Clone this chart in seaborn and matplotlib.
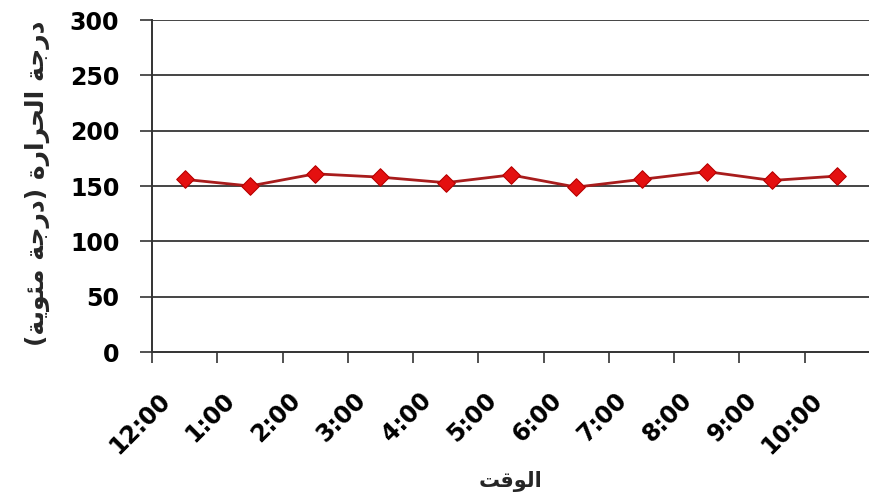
import numpy as np
import pandas as pd
import matplotlib
matplotlib.use("Agg")
import matplotlib.pyplot as plt
from matplotlib.ticker import FixedLocator
from matplotlib.transforms import ScaledTranslation
import seaborn as sns

# chart data
times = ["12:00", "1:00", "2:00", "3:00", "4:00", "5:00",
         "6:00", "7:00", "8:00", "9:00", "10:00"]
temps = [156, 150, 161, 158, 153, 160, 149, 156, 163, 155, 159]
y_ticks = [0, 50, 100, 150, 200, 250, 300]

x_title = "الوقت"
y_title = "درجة الحرارة (درجة مئوية)"

# very small Arabic shaper (matplotlib has no RTL / joining support)
FORMS = {
    "ا": ("\uFE8D", "\uFE8E", None, None),
    "د": ("\uFEA9", "\uFEAA", None, None),
    "ر": ("\uFEAD", "\uFEAE", None, None),
    "و": ("\uFEED", "\uFEEE", None, None),
    "ة": ("\uFE93", "\uFE94", None, None),
    "ج": ("\uFE9D", "\uFE9E", "\uFE9F", "\uFEA0"),
    "ح": ("\uFEA1", "\uFEA2", "\uFEA3", "\uFEA4"),
    "ل": ("\uFEDD", "\uFEDE", "\uFEDF", "\uFEE0"),
    "م": ("\uFEE1", "\uFEE2", "\uFEE3", "\uFEE4"),
    "ئ": ("\uFE89", "\uFE8A", "\uFE8B", "\uFE8C"),
    "ي": ("\uFEF1", "\uFEF2", "\uFEF3", "\uFEF4"),
    "ق": ("\uFED5", "\uFED6", "\uFED7", "\uFED8"),
    "ت": ("\uFE95", "\uFE96", "\uFE97", "\uFE98"),
}


def shape(text):
    out = []
    for i, ch in enumerate(text):
        if ch not in FORMS:
            out.append(ch)
            continue
        prev = text[i - 1] if i > 0 else ""
        nxt = text[i + 1] if i + 1 < len(text) else ""
        join_prev = prev in FORMS and FORMS[prev][2] is not None
        join_next = nxt in FORMS and FORMS[ch][2] is not None
        iso, fin, ini, med = FORMS[ch]
        if join_prev and join_next:
            out.append(med)
        elif join_prev:
            out.append(fin)
        elif join_next:
            out.append(ini)
        else:
            out.append(iso)
    vis = "".join(out)[::-1]
    return vis.translate(str.maketrans("()", ")("))


df = pd.DataFrame({"time": times, "temp": temps})

sns.set_style("white")
plt.rcParams["font.family"] = ["DejaVu Sans"]
plt.rcParams["text.color"] = "black"
plt.rcParams["xtick.color"] = "black"
plt.rcParams["ytick.color"] = "black"

fig = plt.figure(figsize=(8.7, 5.04), dpi=100)
ax = fig.add_axes([152 / 870, 1 - 352 / 504, 718 / 870, 332 / 504])

sns.lineplot(data=df, x="time", y="temp", color="#A81C1C", linewidth=2, ax=ax, sort=False)
sns.scatterplot(data=df, x="time", y="temp", marker="D", s=80, color="#E41010",
                edgecolor="#B80000", linewidth=0.8, ax=ax, zorder=5)

ax.set_xlim(-0.5, len(times) - 0.5)
ax.set_ylim(0, 300)
ax.set_yticks(y_ticks)
ax.set_yticklabels([str(v) for v in y_ticks], fontsize=17, fontweight="bold")
ax.set_xticks(range(len(times)))
ax.set_xticklabels(times, rotation=45, ha="right", va="top", rotation_mode="anchor",
                   fontsize=17, fontweight="bold")
ax.xaxis.set_minor_locator(FixedLocator(np.arange(-0.5, len(times), 1)))
ax.tick_params(axis="x", which="major", length=0, pad=26)
ax.tick_params(axis="x", which="minor", length=8, width=1.2, color="#333333", direction="out", bottom=True)
ax.tick_params(axis="y", length=8.5, width=1.2, color="#333333", direction="out", left=True, pad=15)

# nudge rotated time labels left (after tick_params, which resets transforms)
shift = ScaledTranslation(-27 / 100, 0, fig.dpi_scale_trans)
for lbl in ax.get_xticklabels():
    lbl.set_transform(lbl.get_transform() + shift)

for v in y_ticks[1:]:
    ax.axhline(v, color="#444444", linewidth=1.4, zorder=1)

for s in ["top", "right"]:
    ax.spines[s].set_visible(False)
for s in ["left", "bottom"]:
    ax.spines[s].set_color("#333333")
    ax.spines[s].set_linewidth(1.4)

ax.set_xlabel(shape(x_title), fontsize=15, fontweight="bold")
ax.xaxis.set_label_coords(0.5, -0.357)
ax.set_ylabel(shape(y_title), fontsize=18, fontweight="bold")
ax.yaxis.set_label_coords(-0.142, 0.509)

fig.savefig("out.png", dpi=100, facecolor="white")
